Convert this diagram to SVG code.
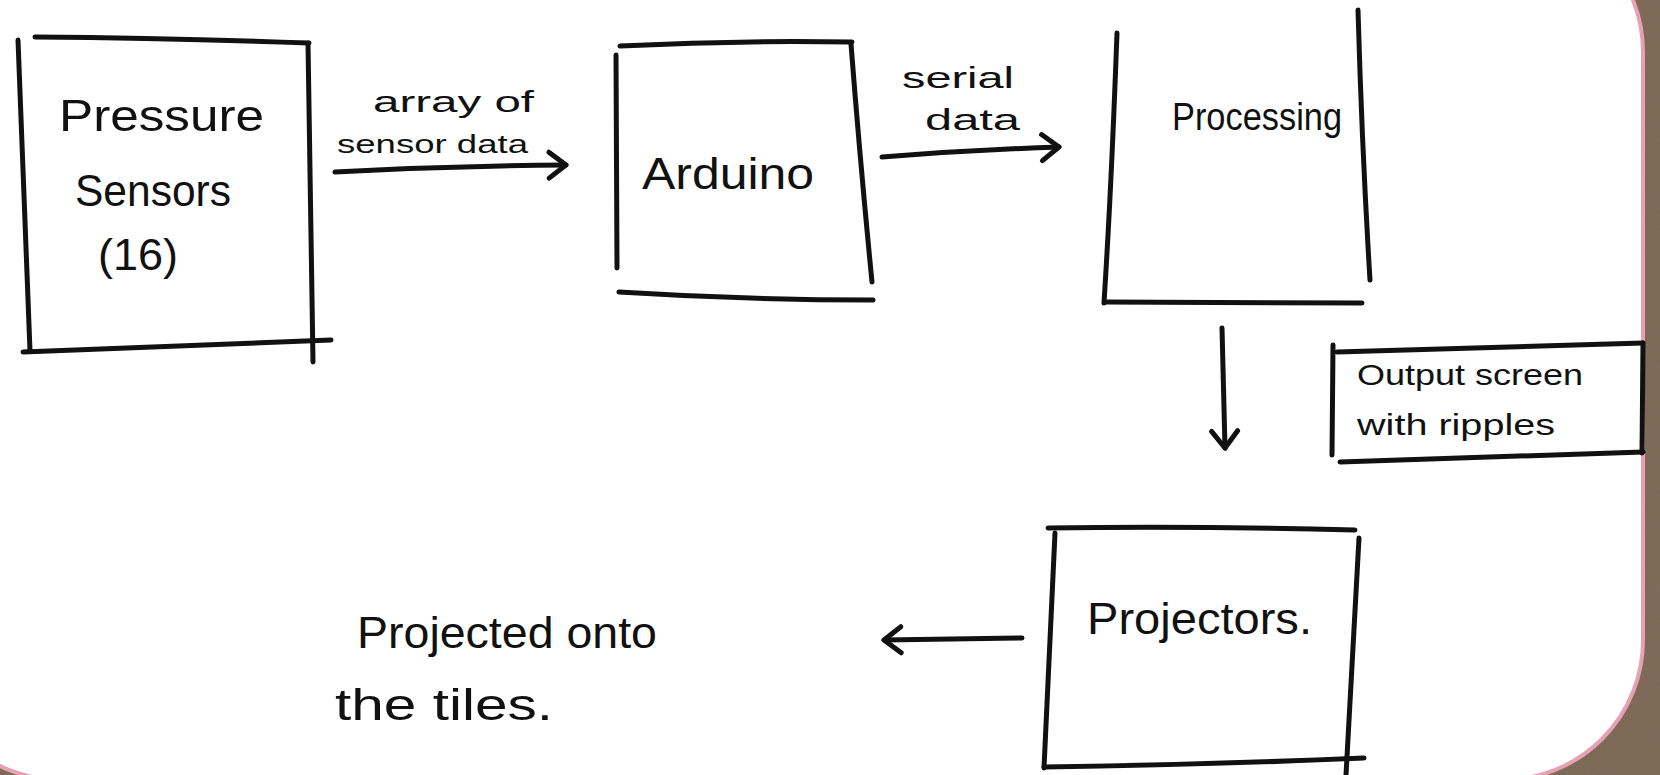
<svg xmlns="http://www.w3.org/2000/svg" width="1660" height="775" viewBox="0 0 1660 775">
<defs>
<style>
.ln{fill:none;stroke:#111;stroke-width:5;stroke-linecap:round;stroke-linejoin:round}
.cn{fill:none;stroke:#111;stroke-width:5;stroke-linecap:round}
.t{font-family:"Liberation Sans","DejaVu Sans",sans-serif;fill:#111}
.big{font-size:45px}
.mid{font-size:38px}
.sm{font-size:30px}
</style>
<marker id="ah" viewBox="0 0 22 30" refX="19" refY="15" markerWidth="22" markerHeight="30" markerUnits="userSpaceOnUse" orient="auto" overflow="visible">
<path d="M2,2 L19,15 L2,28" fill="none" stroke="#111" stroke-width="5" stroke-linecap="round" stroke-linejoin="round"/>
</marker>
<filter id="grain" x="0" y="0" width="100%" height="100%">
<feTurbulence type="fractalNoise" baseFrequency="0.9" numOctaves="2" seed="3"/>
<feColorMatrix type="matrix" values="0 0 0 0 0.25  0 0 0 0 0.2  0 0 0 0 0.15  0 0 0 0.35 0"/>
</filter>
</defs>
<rect width="1660" height="775" fill="#7c6653"/>
<rect width="1660" height="775" filter="url(#grain)"/>
<path d="M-200,-88 H1503 A140,140 0 0 1 1643,52 V640 A140,140 0 0 1 1503,780 H61 A140,140 0 0 1 -79,640 V-88 Z" fill="#ffffff" stroke="#e6a2b3" stroke-width="4"/>

<g id="connectors">
<path class="cn" d="M335,172 Q450,166 566,165" marker-end="url(#ah)"/>
<path class="cn" d="M882,157 Q970,150 1059,147" marker-end="url(#ah)"/>
<path class="cn" d="M1222,328 L1225,448" marker-end="url(#ah)"/>
<path class="cn" d="M1022,638 L884,640" marker-end="url(#ah)"/>
<text class="t sm" x="373" y="112" textLength="161" lengthAdjust="spacingAndGlyphs">array of</text>
<text class="t" style="font-size:26px" x="337" y="153" textLength="191" lengthAdjust="spacingAndGlyphs">sensor data</text>
<text class="t sm" x="902" y="88" textLength="112" lengthAdjust="spacingAndGlyphs">serial</text>
<text class="t sm" x="925" y="130" textLength="95" lengthAdjust="spacingAndGlyphs">data</text>
</g>

<g id="pressure-sensors">
<path class="ln" d="M35,37 Q170,38 309,43"/>
<path class="ln" d="M18,40 Q24,200 30,351"/>
<path class="ln" d="M308,43 Q310,200 313,362"/>
<path class="ln" d="M23,352 Q180,346 331,340"/>
<text class="t big" x="59" y="131" textLength="205" lengthAdjust="spacingAndGlyphs">Pressure</text>
<text class="t big" x="75" y="206" textLength="156" lengthAdjust="spacingAndGlyphs">Sensors</text>
<text class="t big" x="98" y="270" textLength="80" lengthAdjust="spacingAndGlyphs">(16)</text>
</g>

<g id="arduino">
<path class="ln" d="M620,46 Q735,40 852,42"/>
<path class="ln" d="M616,55 L617,268"/>
<path class="ln" d="M851,44 Q860,160 872,282"/>
<path class="ln" d="M619,292 Q745,300 873,300"/>
<text class="t big" x="642" y="189" textLength="172" lengthAdjust="spacingAndGlyphs">Arduino</text>
</g>

<g id="processing">
<path class="ln" d="M1117,33 Q1112,170 1106,270 L1104,303"/>
<path class="ln" d="M1358,10 Q1362,150 1370,280"/>
<path class="ln" d="M1105,302 L1362,303"/>
<text class="t mid" x="1172" y="130" textLength="170" lengthAdjust="spacingAndGlyphs">Processing</text>
</g>

<g id="output-screen">
<path class="ln" d="M1333,345 L1332,455"/>
<path class="ln" d="M1337,352 L1643,343"/>
<path class="ln" d="M1340,462 L1643,452"/>
<path class="ln" d="M1643,343 L1642,453"/>
<text class="t sm" x="1357" y="385" textLength="226" lengthAdjust="spacingAndGlyphs">Output screen</text>
<text class="t sm" x="1357" y="435" textLength="198" lengthAdjust="spacingAndGlyphs">with ripples</text>
</g>

<g id="projectors">
<path class="ln" d="M1048,528 Q1200,526 1355,530"/>
<path class="ln" d="M1055,533 L1044,768"/>
<path class="ln" d="M1359,538 L1346,775"/>
<path class="ln" d="M1044,767 Q1200,765 1364,758"/>
<text class="t big" x="1087" y="634" textLength="225" lengthAdjust="spacingAndGlyphs">Projectors.</text>
</g>

<g id="projected-text">
<text class="t big" x="357" y="648" textLength="300" lengthAdjust="spacingAndGlyphs">Projected onto</text>
<text class="t big" x="335" y="720" textLength="218" lengthAdjust="spacingAndGlyphs">the tiles.</text>
</g>
</svg>
